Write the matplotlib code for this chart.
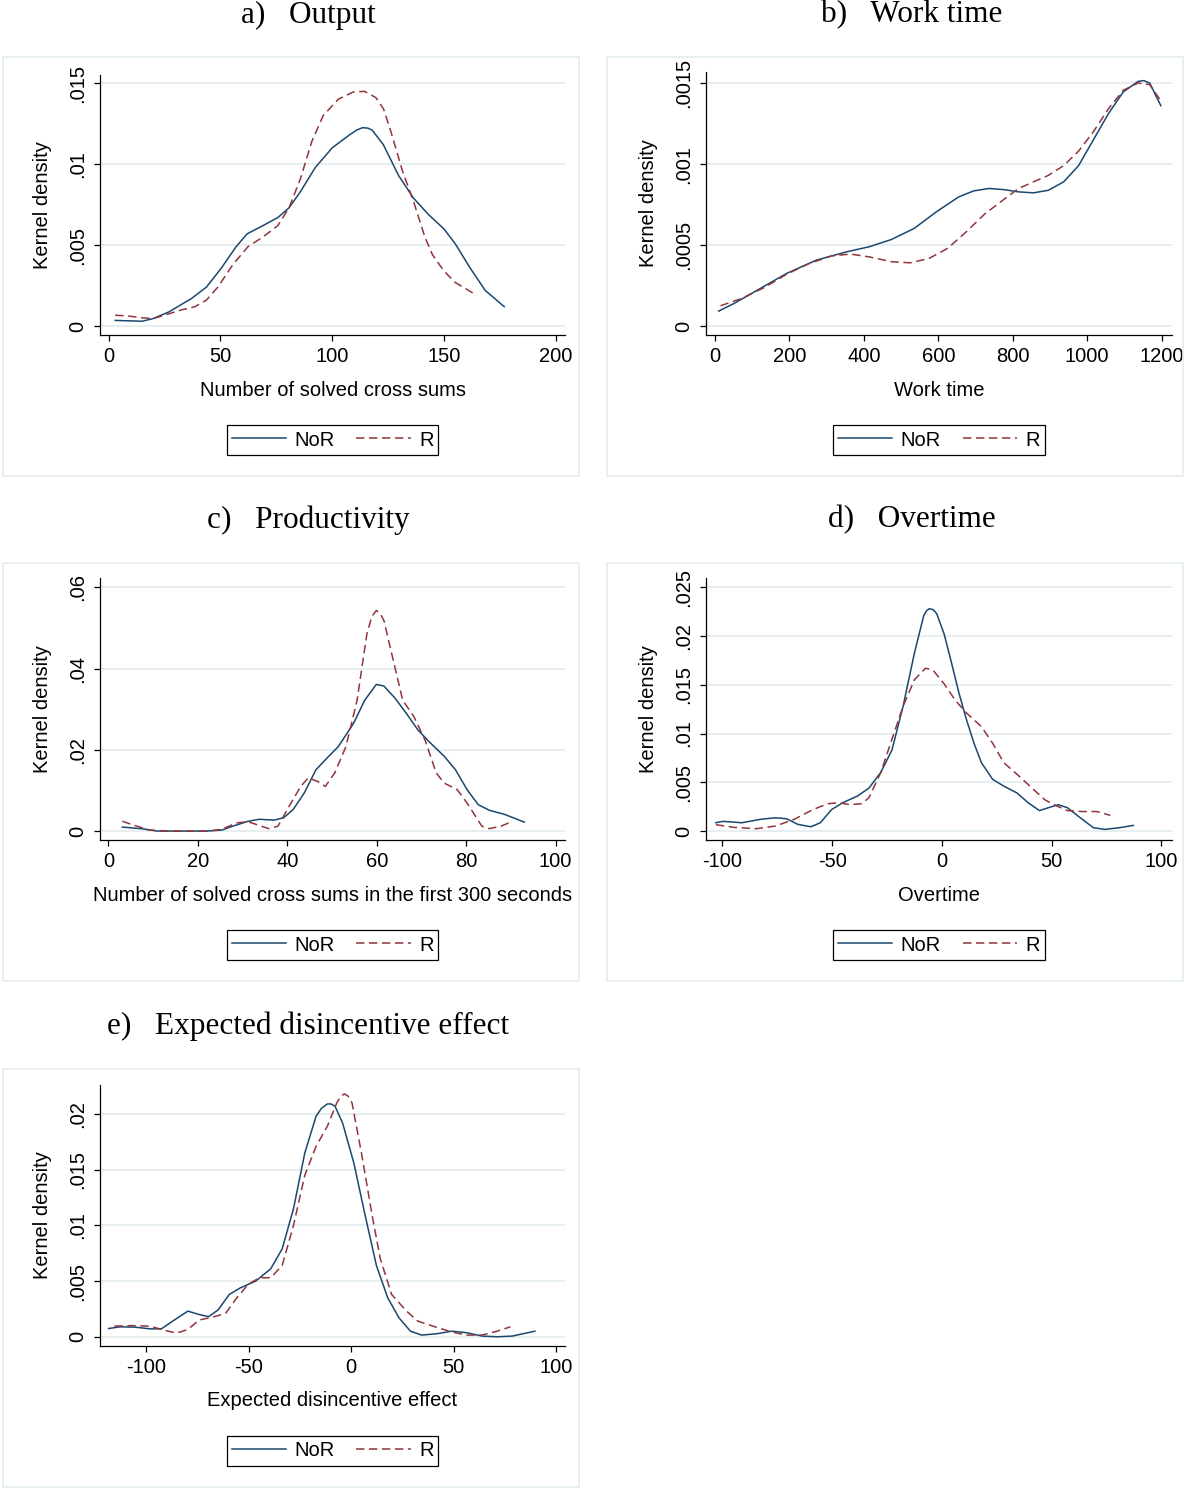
import matplotlib
matplotlib.use("Agg")
import matplotlib.pyplot as plt
from matplotlib.patches import Rectangle
from matplotlib.lines import Line2D

W, H = 1184, 1488
NAVY = "#1a476f"
MAROON = "#90353b"
GRID = "#e3ebee"
BOXCOL = "#e4ecef"

plt.rcParams["font.family"] = ["Liberation Sans", "DejaVu Sans"]
plt.rcParams["axes.unicode_minus"] = False

# a) Output
out_nor_x = [2.9, 15, 20, 27, 37, 43.7, 50.5, 57, 62, 69, 75.7, 80.7, 85.8, 92.5, 100, 107.7, 111, 113.6, 116,
             117.9, 122.9, 129.7, 136.4, 143, 150, 155, 161.7, 168.5, 177]
out_nor_y = [0.00035, 0.0003, 0.00047, 0.00088, 0.0017, 0.0024, 0.0036, 0.0049, 0.0057, 0.0062, 0.0067, 0.0073,
             0.0083, 0.0098, 0.011, 0.0118, 0.0121, 0.01225, 0.01222, 0.0121, 0.0112, 0.0093, 0.0079, 0.0069,
             0.006, 0.0051, 0.0036, 0.0022, 0.0012]
out_r_x = [2.9, 8.3, 15, 20, 25, 32, 38.6, 43.7, 48.8, 55.6, 62.3, 69, 75.7, 80.7, 85.8, 90.9, 96, 102.7, 109.4,
           114.5, 119.6, 123, 126.3, 131.4, 136.4, 141.5, 144.9, 150, 155, 164.7]
out_r_y = [0.00067, 0.00063, 0.00051, 0.00047, 0.00067, 0.00098, 0.0012, 0.0016, 0.0024, 0.0038, 0.0049, 0.0055,
           0.0062, 0.0073, 0.0091, 0.0114, 0.013, 0.014, 0.01445, 0.01449, 0.0141, 0.0134, 0.012, 0.0096, 0.0077,
           0.0055, 0.0044, 0.0034, 0.0027, 0.0019]

# b) Work time
wt_nor_x = [10, 52, 113, 193, 273, 354, 414, 474, 535, 595, 655, 695, 736, 776, 816, 856, 896, 937, 977, 1017,
            1057, 1097, 1137, 1152, 1168, 1198]
wt_nor_y = [0.000092, 0.00014, 0.00022, 0.000325, 0.000407, 0.000458, 0.000489, 0.000534, 0.000602, 0.000705,
            0.000797, 0.000834, 0.000849, 0.000842, 0.000828, 0.000822, 0.000838, 0.00089, 0.00099, 0.00115,
            0.00131, 0.001445, 0.00151, 0.001515, 0.0015, 0.00136]
wt_r_x = [15, 72, 133, 193, 253, 314, 364, 414, 474, 525, 575, 625, 675, 726, 776, 816, 856, 896, 937, 977, 1017,
          1057, 1097, 1137, 1168, 1198]
wt_r_y = [0.000125, 0.00017, 0.000238, 0.00032, 0.000386, 0.000433, 0.000444, 0.000427, 0.000397, 0.00039,
          0.000417, 0.000479, 0.000581, 0.000694, 0.000781, 0.000849, 0.00089, 0.00093, 0.00099, 0.00108, 0.0012,
          0.00134, 0.001455, 0.0015, 0.00149, 0.00139]

# c) Productivity
pr_nor_x = [3.1, 7.5, 10.9, 15.1, 21.9, 25.3, 27.8, 31.2, 33.7, 37.1, 39.2, 41.3, 43.8, 46.4, 48.9, 51.4, 54.8,
            57.3, 59.9, 61.6, 64.1, 66.6, 69.2, 71.7, 75.1, 77.6, 80.2, 82.7, 85.2, 88.6, 93]
pr_nor_y = [0.00098, 0.00057, 0.0, 0.0, 0.0, 0.00024, 0.0012, 0.0024, 0.0029, 0.0027, 0.0033, 0.0053, 0.0094,
            0.0151, 0.018, 0.0208, 0.0265, 0.0322, 0.0361, 0.0357, 0.0327, 0.029, 0.0249, 0.022, 0.0184, 0.0151,
            0.0102, 0.0065, 0.0051, 0.0041, 0.0022]
pr_r_x = [3.1, 5.8, 9.2, 13.4, 21.9, 25.3, 28.6, 31.2, 33.7, 35.8, 37.9, 40.4, 43, 44.7, 46.8, 48.5, 50.6, 53.1,
          55.6, 57.8, 58.9, 59.9, 60.7, 61.6, 63.7, 65.8, 68.3, 70.8, 73.3, 75.1, 78, 80.2, 83.5, 85.2, 87.8, 90.3]
pr_r_y = [0.0024, 0.0014, 0.00024, 0.0, 0.0, 0.0004, 0.002, 0.0023, 0.0014, 0.0006, 0.0012, 0.0061, 0.011, 0.0131,
          0.0122, 0.011, 0.0143, 0.0208, 0.0322, 0.0486, 0.0528, 0.0543, 0.0537, 0.0518, 0.042, 0.0322, 0.0282,
          0.0224, 0.0143, 0.0118, 0.0102, 0.0069, 0.0012, 0.0006, 0.0012, 0.0024]

# d) Overtime
ot_nor_x = [-103, -99.7, -91.2, -82.7, -75.9, -70.8, -65.6, -59.7, -55.4, -50.3, -45.2, -38.4, -33.3, -27.9,
            -22.8, -17.7, -12.6, -8.3, -7, -5.8, -4, -2.4, 1, 4.4, 7.8, 11.2, 14.6, 18, 23.1, 28.2, 34.2, 39.3,
            44.4, 48.6, 52.9, 57.1, 62.2, 69, 74.1, 80.9, 87.2]
ot_nor_y = [0.00085, 0.00099, 0.00085, 0.0012, 0.00136, 0.00126, 0.00068, 0.00044, 0.00085, 0.0022, 0.0029,
            0.0036, 0.0044, 0.006, 0.0083, 0.0128, 0.0182, 0.0221, 0.0226, 0.0228, 0.0227, 0.0223, 0.0202, 0.0172,
            0.0141, 0.0114, 0.009, 0.007, 0.0053, 0.0046, 0.0039, 0.0029, 0.0021, 0.0024, 0.0027, 0.0024, 0.0015,
            0.00034, 0.00017, 0.00034, 0.00058]
ot_r_x = [-103, -94.6, -84.4, -75.9, -67.3, -58.8, -52, -46.9, -41.8, -36.7, -33.3, -27.9, -22.8, -17.7, -12.6,
          -7.5, -4.1, 1, 6.1, 11.2, 18, 23.1, 28.2, 33.3, 40.1, 46.9, 52, 57.1, 63.9, 70.7, 76.7]
ot_r_y = [0.00065, 0.00037, 0.00024, 0.00051, 0.0012, 0.0022, 0.0028, 0.0029, 0.0027, 0.0028, 0.0034, 0.006,
          0.0094, 0.0128, 0.0155, 0.0167, 0.0165, 0.0151, 0.0134, 0.0121, 0.0107, 0.009, 0.007, 0.006, 0.0046,
          0.0032, 0.0026, 0.0021, 0.002, 0.002, 0.0016]

# e) Expected disincentive effect
ed_nor_x = [-118.2, -112.7, -105.3, -98, -92.5, -87, -79.6, -74.1, -69.5, -64.9, -59.4, -53.9, -46.5, -39.2,
            -33.6, -28.1, -22.6, -17.1, -14.5, -11.6, -9.8, -7.9, -4.2, 1.3, 6.8, 12.3, 17.8, 23.3, 28.9, 34.4,
            41.7, 49.1, 56.4, 63.8, 71.1, 78.5, 89.5]
ed_nor_y = [0.00074, 0.00089, 0.00086, 0.00071, 0.00071, 0.0014, 0.0023, 0.002, 0.0018, 0.0024, 0.0038, 0.0044,
            0.005, 0.0061, 0.0079, 0.0115, 0.0165, 0.0198, 0.0205, 0.0209, 0.0209, 0.0207, 0.0192, 0.0156, 0.0109,
            0.0064, 0.0035, 0.0017, 0.0005, 0.00015, 0.00027, 0.0005, 0.00036, 0.00006, 0.0, 0.00006, 0.0005]
ed_r_x = [-115.4, -107.2, -98, -90.6, -85.1, -79.6, -74.1, -66.7, -61.2, -55.7, -50.2, -44.7, -39.2, -33.6, -28.1,
          -22.6, -17.1, -11.6, -7, -5, -3.3, -1.5, 0.4, 5, 10.5, 14.2, 19.7, 27, 32.5, 39.9, 49.1, 56.4, 63.8,
          71.1, 77.6]
ed_r_y = [0.00095, 0.001, 0.00095, 0.00056, 0.00033, 0.00065, 0.0015, 0.0018, 0.0021, 0.0035, 0.0047, 0.0053,
          0.0053, 0.0064, 0.01, 0.0145, 0.0171, 0.0189, 0.021, 0.0216, 0.0218, 0.0216, 0.021, 0.0165, 0.0106,
          0.007, 0.0038, 0.0023, 0.0014, 0.00095, 0.00042, 0.00015, 0.00015, 0.0005, 0.00089]

titles = ["a)   Output", "b)   Work time", "c)   Productivity", "d)   Overtime",
          "e)   Expected disincentive effect"]
xlabels = ["Number of solved cross sums", "Work time",
           "Number of solved cross sums in the first 300 seconds", "Overtime",
           "Expected disincentive effect"]
xticks_all = [[0, 50, 100, 150, 200], [0, 200, 400, 600, 800, 1000, 1200], [0, 20, 40, 60, 80, 100],
              [-100, -50, 0, 50, 100], [-100, -50, 0, 50, 100]]
yticks_all = [[0, 0.005, 0.01, 0.015], [0, 0.0005, 0.001, 0.0015], [0, 0.02, 0.04, 0.06],
              [0, 0.005, 0.01, 0.015, 0.02, 0.025], [0, 0.005, 0.01, 0.015, 0.02]]
ylabels_all = [["0", ".005", ".01", ".015"], ["0", ".0005", ".001", ".0015"], ["0", ".02", ".04", ".06"],
               ["0", ".005", ".01", ".015", ".02", ".025"], ["0", ".005", ".01", ".015", ".02"]]
series = [(out_nor_x, out_nor_y, out_r_x, out_r_y), (wt_nor_x, wt_nor_y, wt_r_x, wt_r_y),
          (pr_nor_x, pr_nor_y, pr_r_x, pr_r_y), (ot_nor_x, ot_nor_y, ot_r_x, ot_r_y),
          (ed_nor_x, ed_nor_y, ed_r_x, ed_r_y)]

# layout in pixels: axes (left, top, right, bottom), panel box (x0, y0, x1, y1), title centre
axes_px = [(100, 75, 565, 335), (706, 72, 1172, 335), (100, 578, 565, 840), (706, 578, 1172, 840),
           (100, 1085, 565, 1346)]
box_px = [(3, 57, 579, 476), (607, 57, 1183, 476), (3, 563, 579, 981), (607, 563, 1183, 981),
          (3, 1069, 579, 1487)]
title_px = [(308, 15), (912, 15), (308, 520), (912, 520), (308, 1026)]
xlims = [(-3.9, 204.2), (-24, 1228), (-1.9, 102.1), (-107.5, 104.8), (-122.4, 104.2)]
ylims = [(-0.00055, 0.0155), (-0.0000555, 0.001568), (-0.0022, 0.0623), (-0.00092, 0.02595),
         (-0.00083, 0.0226)]

fig = plt.figure(figsize=(W / 100, H / 100), dpi=100)


def fx(px):
    return px / W


def fy(py):
    return 1 - py / H


for i in range(5):
    l, t, r, b = axes_px[i]
    bx0, by0, bx1, by1 = box_px[i]
    fig.patches.append(Rectangle((fx(bx0), fy(by1)), fx(bx1) - fx(bx0), fy(by0) - fy(by1),
                                 transform=fig.transFigure, fill=False, edgecolor=BOXCOL, lw=1.2))
    ax = fig.add_axes([fx(l), fy(b), fx(r) - fx(l), fy(t) - fy(b)])
    nx, ny, rx, ry = series[i]
    ax.plot(nx, ny, color=NAVY, lw=1.1, solid_joinstyle="round")
    ax.plot(rx, ry, color=MAROON, lw=1.1, linestyle=(0, (5.5, 3)))
    ax.set_xlim(*xlims[i])
    ax.set_ylim(*ylims[i])
    ax.set_xticks(xticks_all[i])
    ax.set_yticks(yticks_all[i])
    ax.set_yticklabels(ylabels_all[i], rotation=90, va="center")
    ax.spines["top"].set_visible(False)
    ax.spines["right"].set_visible(False)
    ax.spines["left"].set_linewidth(0.9)
    ax.spines["bottom"].set_linewidth(0.9)
    ax.tick_params(axis="both", direction="out", length=4.3, width=0.9, labelsize=14.5, colors="black")
    ax.tick_params(axis="x", pad=4)
    ax.tick_params(axis="y", pad=5)
    ax.yaxis.grid(True, color=GRID, lw=1.2)
    ax.set_axisbelow(True)
    ax.set_ylabel("Kernel density", fontsize=14.5)
    ax.yaxis.set_label_coords(-57 / (r - l), 0.5)
    ax.yaxis.label.set_va("center")
    ax.set_xlabel(xlabels[i], fontsize=14.5)
    ax.xaxis.set_label_coords(0.5, -55 / (b - t))
    ax.xaxis.label.set_va("center")

    handles = [Line2D([], [], color=NAVY, lw=1.1),
               Line2D([], [], color=MAROON, lw=1.1, linestyle=(0, (5.5, 3)))]
    leg = ax.legend(handles, ["NoR", "R"], loc="center", bbox_to_anchor=(fx((l + r) / 2), fy(b + 105)),
                    bbox_transform=fig.transFigure, ncol=2, frameon=True, fancybox=False, edgecolor="black",
                    framealpha=1, handlelength=2.7, handletextpad=0.4, columnspacing=1.1, borderpad=0.25,
                    fontsize=14.5)
    leg.get_frame().set_linewidth(0.9)

    tx, ty = title_px[i]
    fig.text(fx(tx), fy(ty), titles[i], ha="center", va="center", fontsize=22.5,
             family=["Liberation Serif", "DejaVu Serif"])

fig.savefig("out.png", dpi=100, facecolor="white")
